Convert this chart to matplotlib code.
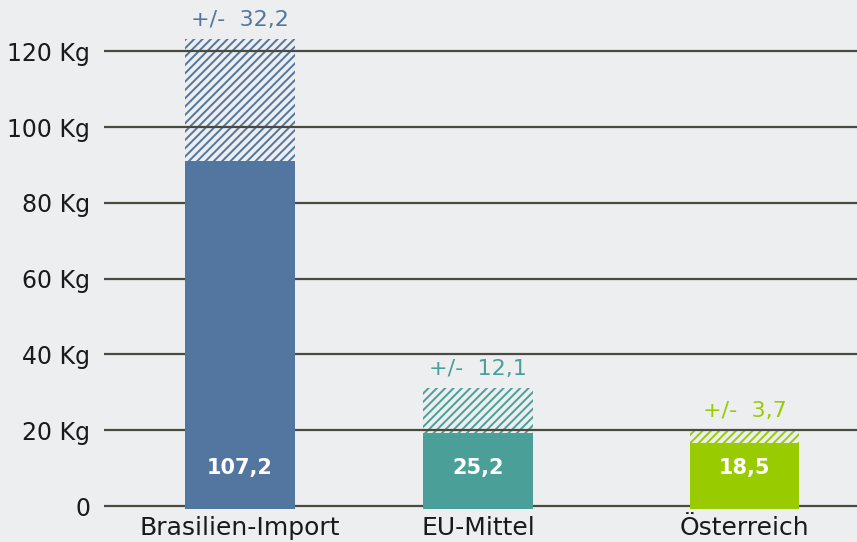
import numpy as np
import matplotlib
matplotlib.use('Agg')
import matplotlib.pyplot as plt

# data
categories = ['Brasilien-Import', 'EU-Mittel', 'Österreich']
values     = [107.2, 25.2, 18.5]
errors     = [32.2, 12.1, 3.7]
value_text = ['107,2', '25,2', '18,5']
error_text = ['+/-  32,2', '+/-  12,1', '+/-  3,7']
colors     = ['#52769f', '#4aa098', '#99cc00']
yticks      = [0, 20, 40, 60, 80, 100, 120]
ytick_text  = ['0', '20 Kg', '40 Kg', '60 Kg', '80 Kg', '100 Kg', '120 Kg']

plt.rc('font', family=['DejaVu Sans'], size=15)
plt.rc('hatch', linewidth=1.4)

bg = '#eceef0'
fig = plt.figure(figsize=(8.57, 5.42), dpi=100, facecolor=bg)
ax = fig.add_axes([0.1214, 0.0524, 0.8786, 0.937], facecolor=bg)

xpos = np.array([0, 1, 2.12])
width = 0.46
base = -0.8

lo = np.array(values) - np.array(errors) / 2
hi = np.array(values) + np.array(errors) / 2

# grid lines
for y in yticks:
    ax.axhline(y, color='#4a4a40', lw=1.6, zorder=2)

for i in range(len(categories)):
    # hatched uncertainty range (lets the grid show through)
    ax.bar(xpos[i], hi[i] - lo[i], width, bottom=lo[i], facecolor='none',
           edgecolor=colors[i], hatch='////', linewidth=0, zorder=1)
    # solid part covers the grid
    ax.bar(xpos[i], lo[i] - base, width, bottom=base, color=colors[i],
           linewidth=0, zorder=3)
    ax.text(xpos[i], 10, value_text[i], ha='center', va='center',
            color='white', fontweight='bold', fontsize=15, zorder=4)
    ax.text(xpos[i], hi[i] + 2.2, error_text[i], ha='center', va='bottom',
            color=colors[i], fontsize=16, zorder=4)

ax.set_xlim(-0.571, 2.592)
ax.set_ylim(-2, 132)
ax.set_yticks(yticks)
ax.set_yticklabels(ytick_text)
ax.set_xticks(xpos)
ax.set_xticklabels(categories)
ax.tick_params(axis='y', length=0, pad=10, labelcolor='#1a1a1a', labelsize=17)
ax.tick_params(axis='x', length=0, pad=2, labelcolor='#1a1a1a', labelsize=18)
for s in ax.spines.values():
    s.set_visible(False)

fig.savefig('out.png', dpi=100, facecolor=bg)
